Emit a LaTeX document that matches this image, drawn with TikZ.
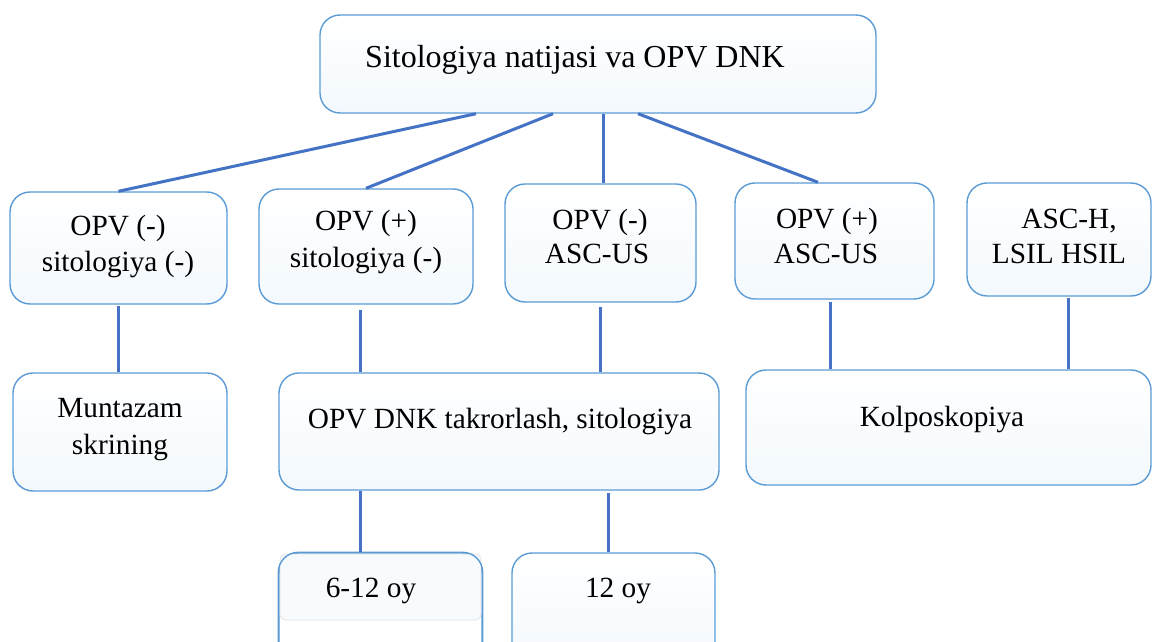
\documentclass[tikz,border=0pt]{standalone}
\usepackage{fontspec}
\setmainfont{Liberation Serif}
\definecolor{boxline}{HTML}{5B9BD5}
\definecolor{connc}{HTML}{4472C4}
\definecolor{boxfill}{HTML}{F3F9FE}
\tikzset{
  box/.style={draw=boxline, line width=1.4pt, rounded corners=20pt,
    top color=white, bottom color=boxfill, inner sep=0pt},
  conn/.style={draw=connc, line width=3pt},
  txt/.style={font=\rmfamily\fontsize{29.3}{36}\selectfont, inner sep=0pt, anchor=base},
  bigtxt/.style={font=\rmfamily\fontsize{32}{38}\selectfont, inner sep=0pt, anchor=base},
}
\begin{document}
\begin{tikzpicture}[x=1pt,y=-1pt]
\useasboundingbox (0,0) rectangle (1152,642);
\clip (0,0) rectangle (1152,642);
% boxes
\node[box, minimum width=556pt, minimum height=98pt] (top) at (598,64) {};
\node[box, minimum width=217pt, minimum height=112pt] (b1) at (118.5,248) {};
\node[box, minimum width=214pt, minimum height=115pt] (b2) at (366,246.5) {};
\node[box, minimum width=191pt, minimum height=118pt] (b3) at (600.5,243) {};
\node[box, minimum width=199pt, minimum height=116pt] (b4) at (834.5,241) {};
\node[box, minimum width=184pt, minimum height=113pt] (b5) at (1059,239.5) {};
\node[box, minimum width=214pt, minimum height=118pt] (mun) at (120,432) {};
\node[box, minimum width=440pt, minimum height=117pt] (rep) at (499,431.5) {};
\node[box, minimum width=405pt, minimum height=115pt] (kol) at (948.5,427.5) {};
\node[box, top color=white, bottom color=white, minimum width=203pt, minimum height=112pt] (m6) at (380.5,609) {};
\fill[boxfill!60, draw=gray!25, line width=0.6pt, rounded corners=6pt] (280,554) rectangle (481,620);
\draw[boxline, line width=1.4pt, rounded corners=20pt] (m6.south west) rectangle (m6.north east);
\node[box, minimum width=203pt, minimum height=112pt] (m12) at (613.5,609) {};
% texts
\node[bigtxt] (t0) at (575,67) {Sitologiya natijasi va OPV DNK};
\node[txt] (t1a) at (118,235) {OPV (-)};
\node[txt] (t1b) at (118,271) {sitologiya (-)};
\node[txt] (t2a) at (366,230) {OPV (+)};
\node[txt] (t2b) at (366,267) {sitologiya (-)};
\node[txt] (t3a) at (600,229) {OPV (-)};
\node[txt] (t3b) at (597,263) {ASC-US};
\node[txt] (t4a) at (827,228) {OPV (+)};
\node[txt] (t4b) at (826,263) {ASC-US};
\node[txt] (t5a) at (1069,228) {ASC-H,};
\node[txt] (t5b) at (1059,263) {LSIL HSIL};
\node[txt] (tma) at (120,417) {Muntazam};
\node[txt] (tmb) at (120,454) {skrining};
\node[txt] (tr) at (500,428) {OPV DNK takrorlash, sitologiya};
\node[txt] (tk) at (942,426) {Kolposkopiya};
\node[txt] (t6) at (371,597) {6-12 oy};
\node[txt] (t12) at (618,597) {12 oy};
% connectors
\draw[conn] ([xshift=-122pt]top.south) -- (b1.north);
\draw[conn] ([xshift=-45pt]top.south) -- (b2.north);
\draw[conn] ([xshift=5pt]top.south) -- ([xshift=2.5pt]b3.north);
\draw[conn] ([xshift=40pt]top.south) -- ([xshift=-16.5pt]b4.north);
\draw[conn] ([yshift=-1pt]b1.south) -- (b1.south |- mun.north);
\coordinate (c2) at ([xshift=-6pt]b2.south);
\draw[conn] ([yshift=-5pt]c2) -- (c2 |- rep.north);
\draw[conn] ([yshift=-4pt]b3.south) -- (b3.south |- rep.north);
\coordinate (c4) at ([xshift=-4.5pt]b4.south);
\draw[conn] ([yshift=-2pt]c4) -- (c4 |- kol.north);
\coordinate (c5) at ([xshift=9pt]b5.south);
\draw[conn] ([yshift=-1pt]c5) -- (c5 |- kol.north);
\coordinate (r1) at ([xshift=-139pt]rep.south);
\draw[conn] (r1) -- (r1 |- m6.north);
\coordinate (r2) at ([xshift=109pt]rep.south);
\draw[conn] ([yshift=-2pt]r2) -- (r2 |- m12.north);
\end{tikzpicture}
\end{document}
